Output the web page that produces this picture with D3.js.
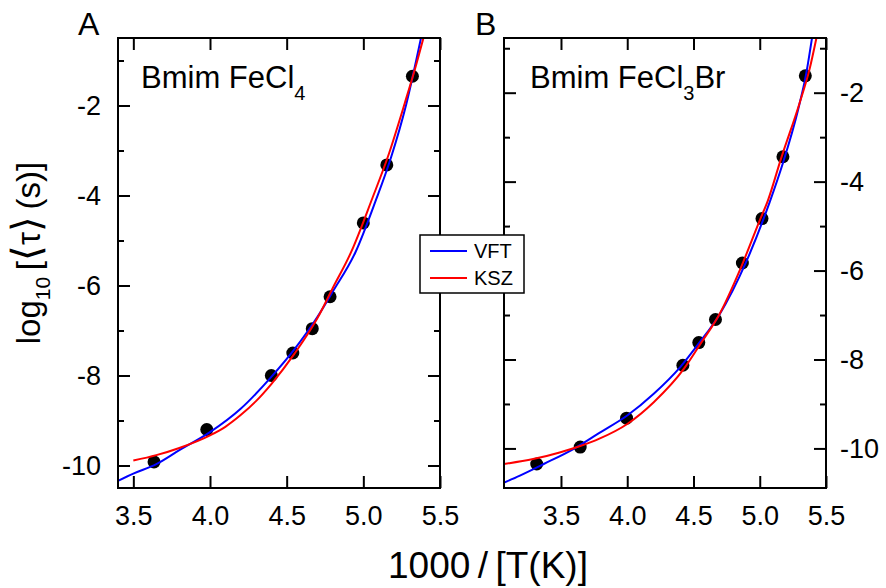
<!DOCTYPE html>
<html>
<head>
<meta charset="utf-8">
<script src="https://cdn.jsdelivr.net/npm/d3@7"></script>
<style>
  body { margin: 0; background: #fff; }
  svg { font-family: "Liberation Sans", Arial, sans-serif; }
  .axis path.domain { display: none; }
  .axis line { stroke: #000; stroke-width: 2; }
  .axis text { font-size: 27px; fill: #000; font-family: "Liberation Sans", Arial, sans-serif; }
</style>
</head>
<body>
<div id="chart"></div>
<script>
// Data, panel A (Bmim FeCl4): 1000/T and log10 <tau>
const invTA = [3.635, 3.979, 4.40, 4.54, 4.667, 4.783, 5.0, 5.153, 5.32];
const logTauA = [-9.92, -9.2, -8.0, -7.5, -6.96, -6.25, -4.61, -3.32, -1.35];

// fit curves A
const vftAx = [3.40, 3.50, 3.65, 3.80, 4.00, 4.20, 4.40, 4.55, 4.70, 4.80, 4.95, 5.08, 5.18, 5.28, 5.376];
const vftAy = [-10.34, -10.18, -9.97, -9.66, -9.26, -8.74, -8.03, -7.42, -6.70, -6.14, -5.25, -4.12, -3.16, -1.97, -0.5];
const kszAx = [3.50, 3.65, 3.80, 4.00, 4.10, 4.20, 4.30, 4.40, 4.55, 4.70, 4.80, 4.92, 5.06, 5.16, 5.27, 5.34, 5.392];
const kszAy = [-9.89, -9.77, -9.61, -9.33, -9.14, -8.88, -8.57, -8.19, -7.52, -6.73, -6.06, -5.26, -4.05, -3.14, -1.95, -1.15, -0.5];

// Data, panel B (Bmim FeCl3Br)
const invTB = [3.317, 3.645, 3.995, 4.42, 4.54, 4.666, 4.869, 5.017, 5.175, 5.344];
const logTauB = [-10.35, -9.97, -9.32, -8.13, -7.62, -7.10, -5.83, -4.83, -3.44, -1.62];

const vftBx = [3.07, 3.19, 3.37, 3.59, 3.79, 4.00, 4.20, 4.40, 4.55, 4.69, 4.90, 5.075, 5.175, 5.288, 5.352, 5.394];
const vftBy = [-10.77, -10.61, -10.35, -10.02, -9.65, -9.26, -8.77, -8.17, -7.60, -7.02, -5.79, -4.46, -3.58, -2.40, -1.55, -0.78];
const kszBx = [3.07, 3.29, 3.49, 3.64, 3.79, 4.00, 4.20, 4.43, 4.55, 4.70, 4.85, 5.00, 5.062, 5.163, 5.301, 5.376, 5.427];
const kszBy = [-10.35, -10.24, -10.09, -9.95, -9.78, -9.45, -8.96, -8.20, -7.66, -6.96, -5.99, -4.87, -4.42, -3.46, -2.23, -1.47, -0.78];

// Ticks
const xTicks = [3.5, 4.0, 4.5, 5.0, 5.5];
const yTicks = [-10, -8, -6, -4, -2];
const yMinor = [-9, -7, -5, -3, -1];

const seriesNames = ["VFT", "KSZ"];
const seriesColors = ["#0000ff", "#ff0000"];

function createChart() {
    const svg = d3.select("#chart").append("svg")
        .attr("width", 886)
        .attr("height", 588);

    const panels = [
        { id: "A", left: 118, right: 440, top: 38, bottom: 488,
          xDomain: [3.4, 5.5], yDomain: [-10.5, -0.5], labelSide: "left",
          px: invTA, py: logTauA, fits: [[vftAx, vftAy], [kszAx, kszAy]],
          title: [["Bmim FeCl", 0], ["4", 1]], titleX: 141, letterX: 78 },
        { id: "B", left: 504, right: 826, top: 38, bottom: 488,
          xDomain: [3.07, 5.5], yDomain: [-10.89, -0.77], labelSide: "right",
          px: invTB, py: logTauB, fits: [[vftBx, vftBy], [kszBx, kszBy]],
          title: [["Bmim FeCl", 0], ["3", 1], ["Br", 0]], titleX: 530, letterX: 475 }
    ];

    panels.forEach(p => drawPanel(svg, p));

    // Y label
    const yl = svg.append("text")
        .attr("transform", "translate(40,253) rotate(-90)")
        .attr("text-anchor", "middle")
        .attr("font-size", "33px");
    yl.append("tspan").text("log");
    yl.append("tspan").attr("font-size", "21px").attr("dy", 10).text("10");
    yl.append("tspan").attr("dy", -10).text("\u2009[");
    yl.append("tspan").attr("font-size", "40px").text("\u27E8");
    yl.append("tspan").text("\u03C4");
    yl.append("tspan").attr("font-size", "40px").text("\u27E9");
    yl.append("tspan").text("\u2009(s)]");

    // X label
    svg.append("text")
        .attr("x", 488)
        .attr("y", 578)
        .attr("text-anchor", "middle")
        .attr("font-size", "37px")
        .text("1000\u2009/\u2009[T(K)]");

    // Legend
    const lg = svg.append("g").attr("transform", "translate(420,235)");
    lg.append("rect")
        .attr("width", 104).attr("height", 58)
        .attr("fill", "#fff").attr("stroke", "#000").attr("stroke-width", 1.5);
    seriesNames.forEach((name, i) => {
        lg.append("line")
            .attr("x1", 10).attr("x2", 47)
            .attr("y1", 16 + i * 27).attr("y2", 16 + i * 27)
            .attr("stroke", seriesColors[i]).attr("stroke-width", 2);
        lg.append("text")
            .attr("x", 54).attr("y", 16 + i * 27)
            .attr("dy", "0.36em")
            .attr("font-size", "20px")
            .text(name);
    });
}

function drawPanel(svg, p) {
    const x = d3.scaleLinear().domain(p.xDomain).range([p.left, p.right]);
    const y = d3.scaleLinear().domain(p.yDomain).range([p.bottom, p.top]);
    const w = p.right - p.left, h = p.bottom - p.top;

    svg.append("clipPath").attr("id", "clip" + p.id)
        .append("rect")
        .attr("x", p.left).attr("y", p.top).attr("width", w).attr("height", h);

    const g = svg.append("g").attr("clip-path", `url(#clip${p.id})`);

    // data points
    g.selectAll("circle")
        .data(p.px.map((v, i) => [v, p.py[i]]))
        .enter().append("circle")
        .attr("cx", d => x(d[0]))
        .attr("cy", d => y(d[1]))
        .attr("r", 6.5)
        .attr("fill", "#000");

    // fit curves
    const line = d3.line()
        .x(d => x(d[0]))
        .y(d => y(d[1]))
        .curve(d3.curveMonotoneX);
    p.fits.forEach((f, i) => {
        g.append("path")
            .datum(f[0].map((v, j) => [v, f[1][j]]))
            .attr("d", line)
            .attr("fill", "none")
            .attr("stroke", seriesColors[i])
            .attr("stroke-width", 2);
    });

    // axes, ticks pointing inwards
    svg.append("g").attr("class", "axis")
        .attr("transform", `translate(0,${p.bottom})`)
        .call(d3.axisBottom(x).tickValues(xTicks).tickSize(-12).tickPadding(18)
            .tickFormat(d3.format(".1f")));
    svg.append("g").attr("class", "axis")
        .attr("transform", `translate(0,${p.top})`)
        .call(d3.axisTop(x).tickValues(xTicks).tickSize(-12).tickFormat(""));

    const left = p.labelSide === "left";
    svg.append("g").attr("class", "axis")
        .attr("transform", `translate(${p.left},0)`)
        .call(d3.axisLeft(y).tickValues(yTicks).tickSize(-12).tickPadding(17)
            .tickFormat(left ? (d => String(d)) : ""));
    svg.append("g").attr("class", "axis")
        .attr("transform", `translate(${p.right},0)`)
        .call(d3.axisRight(y).tickValues(yTicks).tickSize(-12).tickPadding(14)
            .tickFormat(left ? "" : (d => String(d))));
    svg.append("g").attr("class", "axis")
        .attr("transform", `translate(${p.left},0)`)
        .call(d3.axisLeft(y).tickValues(yMinor).tickSize(-6).tickFormat(""));
    svg.append("g").attr("class", "axis")
        .attr("transform", `translate(${p.right},0)`)
        .call(d3.axisRight(y).tickValues(yMinor).tickSize(-6).tickFormat(""));

    // frame
    svg.append("rect")
        .attr("x", p.left).attr("y", p.top)
        .attr("width", w).attr("height", h)
        .attr("fill", "none").attr("stroke", "#000").attr("stroke-width", 2);

    // panel letter
    svg.append("text")
        .attr("x", p.letterX).attr("y", 35)
        .attr("font-size", "32px")
        .text(p.id);

    // title with subscript
    const t = svg.append("text")
        .attr("x", p.titleX).attr("y", 88)
        .attr("font-size", "31px");
    let shifted = 0;
    p.title.forEach(part => {
        const dy = part[1] ? 12 - shifted : -shifted;
        shifted = part[1] ? 12 : 0;
        t.append("tspan")
            .attr("dy", dy)
            .attr("font-size", part[1] ? "20px" : null)
            .text(part[0]);
    });
}

createChart();
</script>
</body>
</html>
